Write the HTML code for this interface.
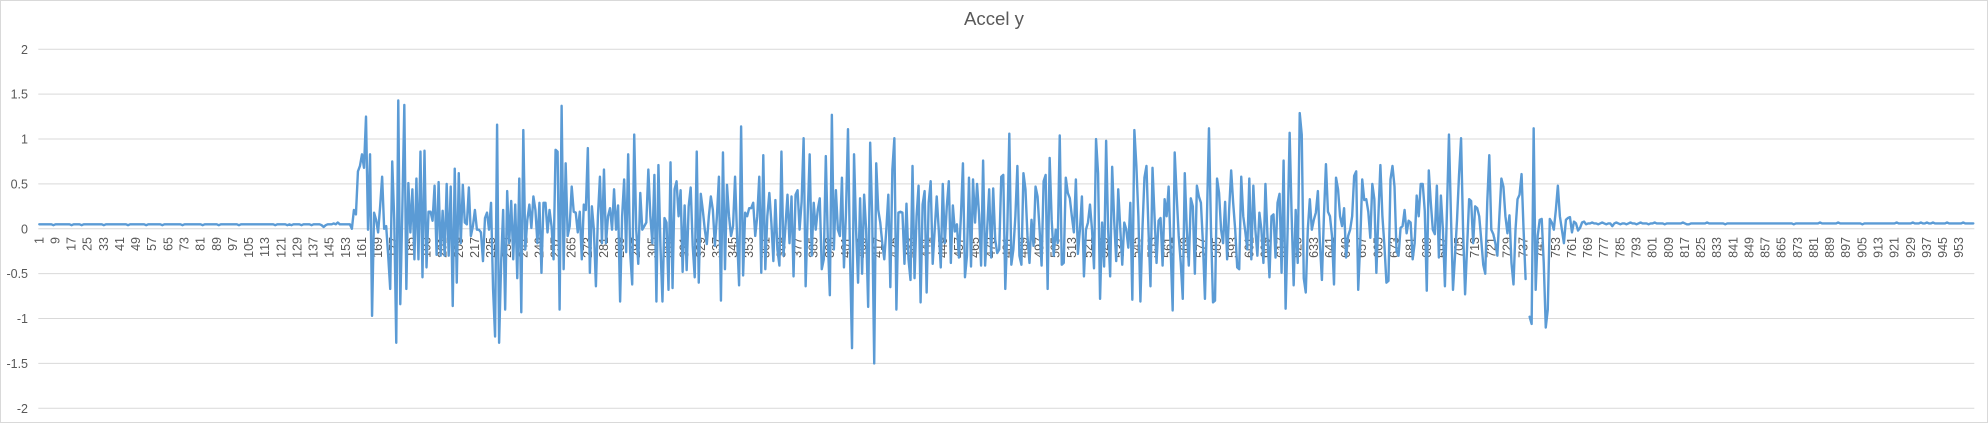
<!DOCTYPE html>
<html>
<head>
<meta charset="utf-8">
<style>
html,body{margin:0;padding:0;background:#fff;}
svg{display:block;font-family:"Liberation Sans",Arial,sans-serif;}
</style>
</head>
<body>
<svg id="chart" width="1988" height="423" viewBox="0 0 1988 423" xmlns="http://www.w3.org/2000/svg">
  <rect x="0.5" y="0.5" width="1987" height="422" fill="#fff" stroke="#D9D9D9" stroke-width="1"/>
  <text x="994" y="25" text-anchor="middle" font-size="18.6" fill="#595959">Accel y</text>
  <g id="grid"></g>
  <g id="ylabels"></g>
  <g id="xlabels"></g>
  <g id="series"></g>
</svg>
<script>
const yTicks = [2, 1.5, 1, 0.5, 0, -0.5, -1, -1.5, -2];
const yTickLabels = ["2", "1.5", "1", "0.5", "0", "-0.5", "-1", "-1.5", "-2"];
const quietStart = [
0.05,0.05,0.05,0.05,0.05,0.05,0.05,0.04,0.05,0.05,
0.05,0.05,0.05,0.05,0.05,0.05,0.04,0.05,0.05,0.05,
0.05,0.04,0.05,0.05,0.05,0.05,0.05,0.05,0.05,0.05,
0.05,0.05,0.04,0.05,0.05,0.05,0.05,0.05,0.05,0.05,
0.05,0.05,0.05,0.05,0.04,0.05,0.05,0.05,0.05,0.05,
0.05,0.05,0.05,0.04,0.05,0.05,0.05,0.05,0.05,0.05,
0.05,0.04,0.05,0.05,0.05,0.05,0.05,0.05,0.05,0.05,
0.05,0.04,0.05,0.05,0.05,0.05,0.05,0.05,0.05,0.05,
0.05,0.04,0.05,0.05,0.05,0.05,0.05,0.05,0.05,0.04,
0.05,0.05,0.05,0.05,0.05,0.05,0.05,0.05,0.05,0.04,
0.05,0.05,0.05,0.05,0.05,0.05,0.05,0.05,0.05,0.05,
0.05,0.05,0.05,0.05,0.05,0.05,0.05,0.04,0.05,0.05,
0.05,0.05,0.05,0.04,0.05,0.04,0.05,0.05,0.05,0.05,
0.04,0.05,0.05,0.05,0.05,0.04,0.05,0.05,0.05,0.05,
0.04,0.02,0.04,0.05,0.05,0.05,0.06,0.05,0.07,0.05,
0.05,0.05,0.05,0.05,0.05
];
const activeSegment = [
0,0.21,0.16,0.64,0.7,0.83,0.68,1.25,-0.01,0.83,
-0.97,0.18,0.1,-0.04,0.25,0.58,0,0.03,-0.3,-0.67,
0.75,0.1,-1.27,1.43,-0.84,0.2,1.38,-0.67,0.51,-0.04,
0.44,-0.34,0.56,-0.34,0.86,-0.54,0.87,-0.43,0.19,0.19,
0.09,0.48,-0.29,0.52,-0.3,0.2,-0.3,0.5,-0.3,0.47,
-0.86,0.67,-0.6,0.62,-0.16,0.49,0.07,0.05,0.46,-0.08,
0.03,0.21,-0.01,-0.01,-0.04,-0.36,0.12,0.18,-0.01,0.29,
-0.67,-1.2,1.16,-1.27,-0.38,0.21,-0.9,0.42,-0.16,0.31,
-0.34,0.27,-0.55,0.56,-0.93,1.1,-0.23,0.1,0.27,0.01,
0.36,0.21,-0.16,0.29,-0.49,0.29,0.29,-0.04,0.21,0.03,
-0.34,0.88,0.86,-0.9,1.37,-0.45,0.73,-0.08,0.03,0.47,
0.19,0.18,-0.04,0.19,-0.34,0.27,0.21,0.9,-0.49,0.25,
-0.01,-0.64,0.14,0.58,-0.16,0.66,-0.16,0.14,0.23,-0.01,
0.44,-0.01,0.26,-0.81,0.14,0.55,-0.26,0.83,-0.27,-0.62,
1.05,-0.01,-0.39,0.4,-0.01,0.03,0.07,0.66,0.14,-0.16,
0.6,-0.81,0.71,-0.19,-0.81,0.12,0.07,-0.68,0.74,-0.66,
0.44,0.53,0.14,0.43,-0.48,0.26,-0.46,0.25,0.46,-0.19,
-0.54,0.86,-0.6,0.39,0.21,-0.01,-0.17,0.14,0.36,0.21,
-0.19,0.14,0.58,-0.8,0.85,-0.45,0.49,0.14,-0.08,0.03,
0.58,-0.08,-0.63,1.14,-0.52,0.18,0.14,0.23,0.23,0.29,
-0.08,0.14,0.58,-0.49,0.82,-0.45,0.14,0.4,0.07,-0.36,
0.32,-0.23,-0.41,0.86,-0.3,0.03,0.38,-0.16,0.36,-0.53,
0.38,0.43,-0.01,0.3,1.01,-0.64,0.14,0.83,-0.3,0.29,
-0.01,0.21,0.34,-0.45,-0.34,0.81,-0.12,-0.74,1.27,-0.23,
0.43,-0.01,-0.08,0.57,-0.43,0.18,1.11,-0.3,-1.33,0.83,
-0.01,-0.6,0.34,-0.5,0.38,-0.01,-0.87,0.96,0.14,-1.5,
0.73,0.21,0.07,-0.16,-0.34,-0.01,0.38,-0.65,0.66,1.01,
-0.9,0.18,0.19,0.18,-0.39,0.28,-0.34,-0.57,0.7,-0.55,
0.14,0.48,-0.82,0.27,0.42,-0.71,0.29,0.53,-0.39,-0.01,
0.36,-0.01,-0.43,0.5,-0.16,0.25,0.53,-0.38,0.26,-0.03,
0.05,-0.32,0.14,0.73,-0.54,-0.3,0.57,-0.42,0.55,0.07,
0.5,0.16,-0.41,0.76,-0.41,-0.01,0.44,-0.32,0.45,-0.12,
-0.27,-0.23,0.58,0.6,-0.67,-0.01,1.06,-0.4,-0.23,0.14,
0.7,-0.3,-0.4,0.62,0.44,-0.08,-0.38,0.1,-0.19,0.47,
0.36,-0.01,-0.41,0.53,0.6,-0.67,0.79,0.1,-0.3,-0.01,
-0.16,1.04,-0.4,-0.38,0.57,0.4,0.34,0.14,-0.04,0.55,
-0.28,-0.01,0.36,-0.53,-0.01,0.07,0.27,-0.01,-0.44,1.0,
0.62,-0.78,0.07,-0.42,0.98,-0.01,-0.53,0.69,0.09,-0.36,
0.44,0.01,-0.4,0.07,-0.01,-0.21,0.29,-0.79,1.1,0.7,
0.14,-0.81,-0.01,0.57,0.7,-0.01,-0.64,0.68,0.14,-0.38,
0.09,0.12,-0.41,0.33,0.14,0.47,-0.23,-0.91,0.85,0.36,
-0.08,-0.38,-0.78,0.62,-0.01,-0.41,0.34,0.25,-0.5,0.48,
0.36,0.29,-0.16,-0.78,0.14,1.12,-0.01,-0.82,-0.8,0.56,
0.4,-0.01,-0.16,0.3,-0.34,0.21,0.65,0.29,-0.01,-0.43,
-0.45,0.58,0.14,-0.03,-0.23,0.56,-0.34,0.48,-0.01,-0.3,
0.18,-0.01,-0.38,0.5,-0.08,-0.54,0.14,0.16,-0.32,0.29,
0.39,-0.49,0.76,-0.89,-0.01,1.07,0.14,-0.63,0.21,-0.38,
1.29,1.05,-0.55,-0.71,-0.01,0.33,-0.01,0.1,0.18,0.42,
-0.16,-0.57,0.14,0.72,0.19,0.14,-0.08,-0.62,0.57,0.44,
0.14,0.03,0.23,-0.32,-0.08,-0.01,0.14,0.59,0.64,-0.68,
-0.16,0.55,0.32,0.33,0.19,-0.1,0.5,0.33,-0.49,0.14,
0.71,0.14,-0.19,-0.6,-0.58,0.55,0.7,0.47,-0.25,-0.3,
0.01,0.03,0.21,-0.05,0.09,0.07,-0.34,-0.16,0.37,0.14,
0.5,0.5,0.2,-0.69,0.65,0.29,-0.01,-0.06,0.48,-0.32,
0.37,-0.01,-0.64,0.2,1.05,0.14,-0.68,-0.3,0.1,0.6,
1.01,-0.01,-0.73,-0.2,0.33,0.31,-0.16,0.25,0.23,0.14,
-0.12,-0.4,-0.5,0.3,0.82,-0.01,-0.06,-0.16,-0.3,0.14,
0.56,0.47,0.14,-0.05,0.15,-0.38,-0.62,-0.01,0.33,0.38,
0.61,-0.01,-0.56,null,-0.98,-1.06,1.12,-0.68,-0.08,0.1,
0.11,-0.38,-1.1,-0.9,0.11,0.07,-0.01,0.21,0.48,0.14,
-0.01,-0.16,0.1,0.12,0.13,-0.04,0.08,0.06,-0.02,0.01,
0.07,0.08,0.05,0.06
];
const quietEnd = [
0.06,0.07,0.06,0.06,0.05,0.06,0.07,0.06,0.05,0.06,
0.06,0.03,0.06,0.07,0.06,0.05,0.06,0.06,0.05,0.06,
0.07,0.06,0.06,0.05,0.06,0.07,0.06,0.06,0.06,0.05,
0.06,0.06,0.07,0.06,0.06,0.06,0.06,0.05,0.06,0.06,
0.06,0.06,0.06,0.06,0.06,0.06,0.07,0.06,0.05,0.05,
0.06,0.06,0.06,0.06,0.06,0.06,0.06,0.06,0.07,0.06,
0.06,0.06,0.06,0.06,0.06,0.06,0.06,0.05,0.06,0.06,
0.06,0.06,0.06,0.06,0.06,0.06,0.06,0.06,0.06,0.06,
0.06,0.06,0.06,0.06,0.06,0.06,0.06,0.06,0.06,0.06,
0.06,0.06,0.06,0.06,0.06,0.06,0.06,0.06,0.06,0.06,
0.06,0.05,0.06,0.06,0.06,0.06,0.06,0.06,0.06,0.06,
0.06,0.06,0.06,0.06,0.07,0.06,0.06,0.06,0.06,0.06,
0.06,0.06,0.06,0.07,0.06,0.06,0.06,0.06,0.06,0.06,
0.06,0.06,0.06,0.06,0.06,0.05,0.06,0.06,0.06,0.06,
0.06,0.06,0.06,0.06,0.06,0.06,0.06,0.06,0.06,0.06,
0.06,0.06,0.07,0.06,0.06,0.06,0.06,0.06,0.06,0.06,
0.07,0.06,0.06,0.06,0.07,0.06,0.06,0.07,0.06,0.06,
0.07,0.06,0.06,0.06,0.06,0.06,0.06,0.07,0.06,0.06,
0.06,0.06,0.06,0.06,0.06,0.07,0.06,0.06,0.06,0.06,
0.06
];
const values = quietStart.concat(activeSegment, quietEnd);
const categories = values.map(function(v, i){ return i + 1; });
const labelEvery = 8;

const SVGNS = "http://www.w3.org/2000/svg";
const plotLeft = 38.3, plotRight = 1974.3;
const yTop = 49.3, yBottom = 408.3, yMax = 2, yMin = -2;
const N = 960;
const step = (plotRight - plotLeft) / N;
function xScale(i){ return plotLeft + (i + 0.5) * step; }
function yScale(v){ return yTop + (yMax - v) / (yMax - yMin) * (yBottom - yTop); }

const grid = document.getElementById('grid');
const yl = document.getElementById('ylabels');
yTicks.forEach(function(t, k){
  const ln = document.createElementNS(SVGNS, 'line');
  
  
  ln.setAttribute('x1', plotLeft); ln.setAttribute('x2', plotRight);
  ln.setAttribute('y1', yScale(t)); ln.setAttribute('y2', yScale(t));
  ln.setAttribute('stroke', '#D9D9D9'); ln.setAttribute('stroke-width', '1');
  grid.appendChild(ln);
  const tx = document.createElementNS(SVGNS, 'text');
  
  
  tx.setAttribute('x', 28); tx.setAttribute('y', yScale(t) + 4.5);
  tx.setAttribute('text-anchor', 'end'); tx.setAttribute('font-size', '12.5');
  tx.setAttribute('fill', '#595959');
  tx.textContent = yTickLabels[k];
  yl.appendChild(tx);
});

const xl = document.getElementById('xlabels');
categories.forEach(function(c, i){
  if (i % labelEvery !== 0 || c > 953) return;
  const tx = document.createElementNS(SVGNS, 'text');
  
  
  const x = xScale(i), y = 237;
  tx.setAttribute('x', x); tx.setAttribute('y', y);
  tx.setAttribute('transform', 'rotate(-90 ' + x + ' ' + y + ')');
  tx.setAttribute('text-anchor', 'end');
  tx.setAttribute('dominant-baseline', 'central');
  tx.setAttribute('font-size', '12.5');
  tx.setAttribute('fill', '#595959');
  tx.textContent = String(c);
  xl.appendChild(tx);
});

let d = '', pen = false;
values.forEach(function(v, i){
  if (v === null || v === undefined) { pen = false; return; }
  d += (pen ? 'L' : 'M') + xScale(i).toFixed(2) + ' ' + yScale(v).toFixed(2);
  pen = true;
});
const path = document.createElementNS(SVGNS, 'path');


path.setAttribute('d', d);
path.setAttribute('fill', 'none');
path.setAttribute('stroke', '#5B9BD5');
path.setAttribute('stroke-width', '2.4');
path.setAttribute('stroke-linejoin', 'round');
path.setAttribute('stroke-linecap', 'round');
document.getElementById('series').appendChild(path);
</script>
</body>
</html>
